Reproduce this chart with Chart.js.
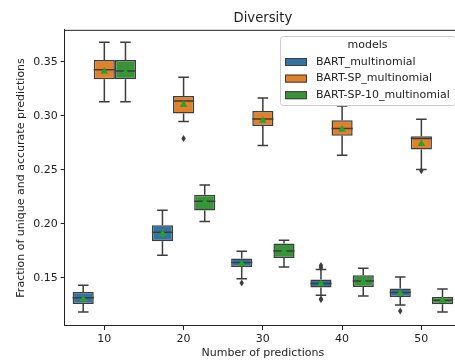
<!DOCTYPE html>
<html lang="en">
<head>
    <meta charset="UTF-8">
    <title>Diversity</title>
    <script src="https://cdn.jsdelivr.net/npm/chart.js"></script>
    <style>
        html, body { margin: 0; padding: 0; background: #fff; overflow: hidden; }
        #chart { display: block; }
    </style>
</head>
<body>
    <canvas id="chart" width="461" height="363"></canvas>

    <script>
        // Number of predictions
        const categories = ['10', '20', '30', '40', '50'];
        const yTicks = [0.15, 0.20, 0.25, 0.30, 0.35];

        // BART_multinomial
        const bartLow    = [0.1185, 0.1710, 0.1494, 0.1340, 0.1250];
        const bartQ1     = [0.1259, 0.1840, 0.1602, 0.1411, 0.1324];
        const bartMedian = [0.1318, 0.1923, 0.1643, 0.1448, 0.1365];
        const bartQ3     = [0.1370, 0.1988, 0.1680, 0.1485, 0.1402];
        const bartHigh   = [0.1432, 0.2127, 0.1747, 0.1578, 0.1510];
        const bartMean   = [0.1306, 0.1911, 0.1633, 0.1448, 0.1361];
        const bartFliers = [[], [], [0.1454], [0.1615, 0.1595, 0.1305, 0.1300], [0.1194]];

        // BART-SP_multinomial
        const spLow    = [0.3130, 0.2948, 0.2726, 0.2636, 0.2504];
        const spQ1     = [0.3337, 0.3022, 0.2905, 0.2815, 0.2689];
        const spMedian = [0.3426, 0.3136, 0.2970, 0.2883, 0.2790];
        const spQ3     = [0.3516, 0.3182, 0.3044, 0.2960, 0.2812];
        const spHigh   = [0.3680, 0.3356, 0.3164, 0.3090, 0.2967];
        const spMean   = [0.3414, 0.3106, 0.2960, 0.2877, 0.2744];
        const spFliers = [[], [0.2791], [], [], [0.2492]];

        // BART-SP-10_multinomial
        const sp10Low    = [0.3130, 0.2022, 0.1602, 0.1333, 0.1185];
        const sp10Q1     = [0.3337, 0.2124, 0.1685, 0.1417, 0.1256];
        const sp10Median = [0.3415, 0.2210, 0.1750, 0.1472, 0.1293];
        const sp10Q3     = [0.3516, 0.2269, 0.1818, 0.1525, 0.1324];
        const sp10High   = [0.3680, 0.2361, 0.1849, 0.1590, 0.1398];
        const sp10Mean   = [0.3405, 0.2204, 0.1750, 0.1470, 0.1293];
        const sp10Fliers = [[], [], [], [], []];

        const models = [
            { label: 'BART_multinomial', color: '#3274a1',
              low: bartLow, q1: bartQ1, median: bartMedian, q3: bartQ3, high: bartHigh, mean: bartMean, fliers: bartFliers },
            { label: 'BART-SP_multinomial', color: '#e1812c',
              low: spLow, q1: spQ1, median: spMedian, q3: spQ3, high: spHigh, mean: spMean, fliers: spFliers },
            { label: 'BART-SP-10_multinomial', color: '#3a923a',
              low: sp10Low, q1: sp10Q1, median: sp10Median, q3: sp10Q3, high: sp10High, mean: sp10Mean, fliers: sp10Fliers }
        ];

        const LINE = '#3d3d3d';
        const TEXT = '#222';
        const FONT = "'DejaVu Sans', sans-serif";

        // whiskers, caps, medians, means and outliers on top of the boxes
        const boxDetails = {
            id: 'boxDetails',
            afterDatasetsDraw(chart) {
                const ctx = chart.ctx;
                const y = chart.scales.y;
                ctx.save();
                models.forEach((m, di) => {
                    const meta = chart.getDatasetMeta(di);
                    meta.data.forEach((bar, i) => {
                        const x = bar.x, w = bar.width;
                        const cap = w / 4;
                        ctx.strokeStyle = LINE;
                        ctx.lineWidth = 1.5;
                        ctx.beginPath();
                        // whiskers
                        ctx.moveTo(x, y.getPixelForValue(m.q3[i]));
                        ctx.lineTo(x, y.getPixelForValue(m.high[i]));
                        ctx.moveTo(x, y.getPixelForValue(m.q1[i]));
                        ctx.lineTo(x, y.getPixelForValue(m.low[i]));
                        // caps
                        ctx.moveTo(x - cap, y.getPixelForValue(m.high[i]));
                        ctx.lineTo(x + cap, y.getPixelForValue(m.high[i]));
                        ctx.moveTo(x - cap, y.getPixelForValue(m.low[i]));
                        ctx.lineTo(x + cap, y.getPixelForValue(m.low[i]));
                        // median
                        ctx.moveTo(x - w / 2, y.getPixelForValue(m.median[i]));
                        ctx.lineTo(x + w / 2, y.getPixelForValue(m.median[i]));
                        ctx.stroke();

                        // outliers (thin diamonds)
                        ctx.fillStyle = LINE;
                        m.fliers[i].forEach(v => {
                            const fy = y.getPixelForValue(v);
                            ctx.beginPath();
                            ctx.moveTo(x, fy - 3.5);
                            ctx.lineTo(x + 2.2, fy);
                            ctx.lineTo(x, fy + 3.5);
                            ctx.lineTo(x - 2.2, fy);
                            ctx.closePath();
                            ctx.fill();
                        });

                        // mean marker
                        const my = y.getPixelForValue(m.mean[i]);
                        ctx.fillStyle = '#2ca02c';
                        ctx.beginPath();
                        ctx.moveTo(x, my - 4);
                        ctx.lineTo(x + 3.8, my + 2.6);
                        ctx.lineTo(x - 3.8, my + 2.6);
                        ctx.closePath();
                        ctx.fill();
                    });
                });

                // top spine
                const a = chart.chartArea;
                ctx.strokeStyle = TEXT;
                ctx.lineWidth = 1;
                ctx.beginPath();
                ctx.moveTo(a.left, a.top + 0.5);
                ctx.lineTo(a.right, a.top + 0.5);
                ctx.stroke();
                ctx.restore();
            },
            afterDraw(chart) {
                // legend box in the upper right corner
                const ctx = chart.ctx;
                const bx = 280.5, by = 36.5, bw = 175, bh = 69;
                ctx.save();
                ctx.fillStyle = 'rgba(255,255,255,0.8)';
                ctx.strokeStyle = '#cccccc';
                ctx.lineWidth = 1;
                ctx.beginPath();
                ctx.roundRect(bx, by, bw, bh, 3);
                ctx.fill();
                ctx.stroke();

                ctx.font = '11px ' + FONT;
                ctx.fillStyle = TEXT;
                ctx.textBaseline = 'middle';
                ctx.textAlign = 'center';
                ctx.fillText('models', 367.5, 45.5);
                ctx.textAlign = 'left';
                models.forEach((m, k) => {
                    const ry = 62 + k * 16.6;
                    ctx.fillStyle = m.color;
                    ctx.fillRect(285, ry - 4, 22, 8);
                    ctx.strokeStyle = LINE;
                    ctx.strokeRect(285.5, ry - 3.5, 21, 7);
                    ctx.fillStyle = TEXT;
                    ctx.fillText(m.label, 316, ry);
                });
                ctx.restore();
            }
        };

        new Chart(document.getElementById('chart'), {
            type: 'bar',
            data: {
                labels: categories,
                datasets: models.map(m => ({
                    label: m.label,
                    data: m.q1.map((v, i) => [v, m.q3[i]]),
                    backgroundColor: m.color,
                    borderColor: LINE,
                    borderWidth: 1.5,
                    borderSkipped: false,
                    categoryPercentage: 0.8,
                    barPercentage: 1.0
                }))
            },
            options: {
                responsive: false,
                animation: false,
                devicePixelRatio: 1,
                layout: { padding: 0 },
                plugins: {
                    legend: { display: false },
                    tooltip: { enabled: false },
                    title: {
                        display: true,
                        text: 'Diversity',
                        fullSize: false,
                        color: TEXT,
                        font: { family: FONT, size: 13.2, weight: 'normal' },
                        padding: { top: 11, bottom: 3 }
                    }
                },
                scales: {
                    x: {
                        offset: true,
                        grid: { display: true, offset: false, drawOnChartArea: false, drawTicks: true, tickLength: 4, color: TEXT },
                        border: { display: true, color: TEXT, width: 1 },
                        ticks: { color: TEXT, font: { family: FONT, size: 11 }, padding: 3, maxRotation: 0 },
                        title: { display: true, text: 'Number of predictions', color: TEXT,
                                 font: { family: FONT, size: 11 }, padding: { top: 0, bottom: 3 } },
                        afterFit(scale) { scale.height = 37; }
                    },
                    y: {
                        min: 0.1056,
                        max: 0.3795,
                        grid: { display: true, drawOnChartArea: false, drawTicks: true, tickLength: 4, color: TEXT },
                        border: { display: true, color: TEXT, width: 1 },
                        ticks: { color: TEXT, font: { family: FONT, size: 11 }, padding: 3,
                                 callback: v => v.toFixed(2) },
                        afterBuildTicks(scale) { scale.ticks = yTicks.map(v => ({ value: v })); },
                        title: { display: true, text: 'Fraction of unique and accurate predictions', color: TEXT,
                                 font: { family: FONT, size: 11 }, padding: { top: 15, bottom: 0 } },
                        afterFit(scale) { scale.width = 64.7; }
                    }
                }
            },
            plugins: [boxDetails]
        });
    </script>
</body>
</html>
